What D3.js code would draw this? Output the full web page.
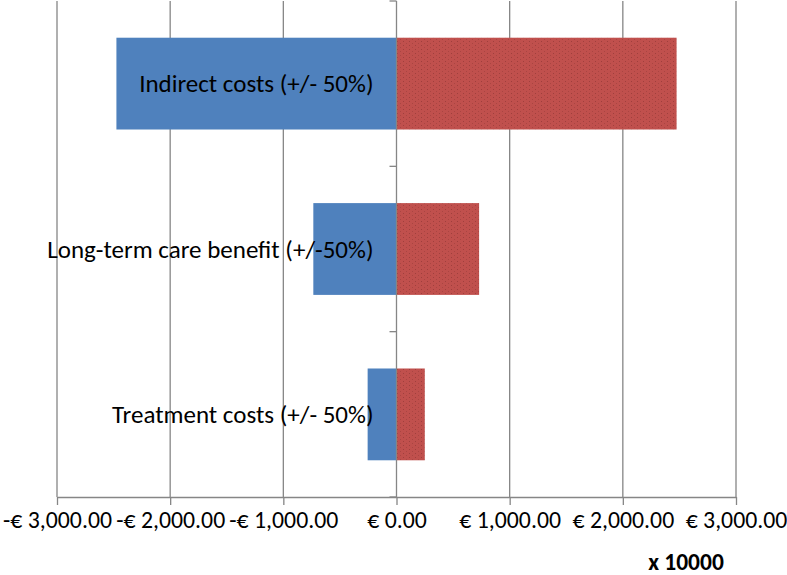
<!DOCTYPE html>
<html><head><meta charset="utf-8">
<script src="https://cdn.jsdelivr.net/npm/d3@7"></script>
<style>body{margin:0;background:#fff}svg{display:block}</style>
</head><body>
<svg id="c" width="787" height="575"></svg>
<script>
const categories = ["Indirect costs (+/- 50%)", "Long-term care benefit (+/-50%)", "Treatment costs (+/- 50%)"];
const lowValues = [-2475, -735, -255];
const highValues = [2475, 730, 250];
const tickValues = [-3000, -2000, -1000, 0, 1000, 2000, 3000];
const unitLabel = "x 10000";

const svg = d3.select("#c");
const font = "Carlito, Calibri, 'Open Sans', sans-serif";
const x = d3.scaleLinear().domain([-3000, 3000]).range([57, 736]);
const y = d3.scaleBand().domain(categories).range([1, 497]).paddingInner(0.445).paddingOuter(0.222);
const bandY = d3.scaleBand().domain(categories).range([1, 497]);

// texture pattern for red bars
const defs = svg.append("defs");
const pat = defs.append("pattern").attr("id","stip").attr("patternUnits","userSpaceOnUse").attr("width",6).attr("height",4);
pat.append("rect").attr("width",6).attr("height",4).attr("fill","#C0504D");
pat.append("rect").attr("x",1).attr("y",1).attr("width",1).attr("height",1).attr("fill","#8a3432").attr("opacity",0.6);
pat.append("rect").attr("x",4).attr("y",3).attr("width",1).attr("height",1).attr("fill","#8a3432").attr("opacity",0.4);

// gridlines
svg.append("g").selectAll("line").data(tickValues.filter(d => d !== 0)).join("line")
  .attr("x1", d => x(d)).attr("x2", d => x(d)).attr("y1", 1).attr("y2", 497)
  .attr("stroke", "#868686").attr("stroke-width", 1.3);

// bars
svg.append("g").selectAll("rect").data(categories).join("rect")
  .attr("x", (d,i) => x(lowValues[i])).attr("width", (d,i) => x(0) - x(lowValues[i]))
  .attr("y", d => y(d)).attr("height", y.bandwidth()).attr("fill", "#4F81BD");
svg.append("g").selectAll("rect").data(categories).join("rect")
  .attr("x", x(0)).attr("width", (d,i) => x(highValues[i]) - x(0))
  .attr("y", d => y(d)).attr("height", y.bandwidth()).attr("fill", "url(#stip)");

// bottom axis
const xAxis = d3.axisBottom(x).tickValues(tickValues).tickSizeInner(8).tickSizeOuter(0)
  .tickFormat(d => (d < 0 ? "-€ " : "€ ") + d3.format(",.2f")(Math.abs(d)));
const gx = svg.append("g").attr("transform", "translate(0,497)").call(xAxis);
gx.select(".domain").attr("stroke", "#868686").attr("stroke-width", 1.3);
gx.selectAll(".tick line").attr("stroke", "#868686").attr("stroke-width", 1.3);
gx.selectAll(".tick text").attr("fill", "#000").attr("font-family", font).attr("font-size", 23.8)
  .attr("dy", null).attr("y", 31);

// center vertical axis with ticks at band boundaries
const boundaries = categories.map(c => bandY(c)).concat([497]);
svg.append("line").attr("x1", x(0)).attr("x2", x(0)).attr("y1", 1).attr("y2", 497)
  .attr("stroke", "#868686").attr("stroke-width", 1.3);
svg.append("g").selectAll("line").data(boundaries).join("line")
  .attr("x1", x(0) - 7).attr("x2", x(0)).attr("y1", d => d).attr("y2", d => d)
  .attr("stroke", "#868686").attr("stroke-width", 1.3);

// category labels
svg.append("g").selectAll("text").data(categories).join("text")
  .attr("x", x(0) - 23).attr("y", d => bandY(d) + bandY.bandwidth()/2)
  .attr("text-anchor", "end").attr("dominant-baseline", "central")
  .attr("font-family", font).attr("font-size", 25).attr("fill", "#000").text(d => d);

svg.append("text").attr("x", 686).attr("y", 570).attr("text-anchor", "middle")
  .attr("font-family", font).attr("font-size", 23.5).attr("font-weight", "bold").text(unitLabel);
</script>
</body></html>
